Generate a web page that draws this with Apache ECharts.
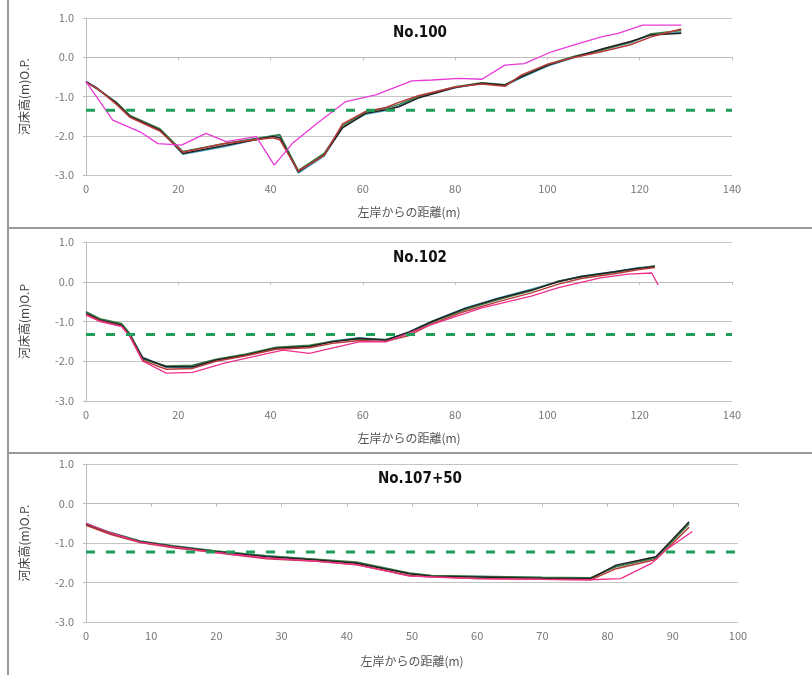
<!DOCTYPE html>
<html>
<head>
<meta charset="utf-8">
<script src="https://cdn.jsdelivr.net/npm/echarts@6/dist/echarts.min.js"></script>
<style>
  html, body { margin: 0; padding: 0; background: #fff; }
  #chart { width: 812px; height: 675px; }
</style>
</head>
<body>
<div id="chart"></div>
<script>
// 断面名
var titles = ['No.100', 'No.102', 'No.107+50'];
var yNames = ['河床高(m)O.P.', '河床高(m)O.P', '河床高(m)O.P.'];
var xName = '左岸からの距離(m)';
var waterLevel = [-1.35, -1.33, -1.23];
var xMax = [140, 140, 100];
var xStep = [20, 20, 10];

// No.100
var p1X = [0, 2.3, 6.6, 9.5, 16, 21, 30, 40.5, 42, 46, 51.6, 55.6, 60.6, 65, 67.8, 72, 80, 85.8, 90.8, 94.4, 100.2, 106, 112.4, 118, 122.5, 129];
var p1Black = [-0.62, -0.79, -1.17, -1.51, -1.85, -2.45, -2.25, -2.02, -2.05, -2.92, -2.49, -1.8, -1.43, -1.34, -1.26, -1.04, -0.77, -0.66, -0.71, -0.5, -0.2, 0.01, 0.23, 0.4, 0.57, 0.61];
var p1Green = [-0.63, -0.8, -1.15, -1.48, -1.82, -2.4, -2.2, -2.0, -1.97, -2.88, -2.45, -1.75, -1.4, -1.3, -1.2, -1.0, -0.75, -0.65, -0.7, -0.48, -0.18, 0.03, 0.2, 0.38, 0.6, 0.68];
var p1Red = [-0.64, -0.78, -1.2, -1.53, -1.88, -2.42, -2.2, -2.05, -2.1, -2.9, -2.5, -1.7, -1.38, -1.28, -1.15, -0.98, -0.76, -0.68, -0.74, -0.45, -0.17, 0.0, 0.16, 0.32, 0.52, 0.72];
var p1Blue = [-0.62, -0.77, -1.16, -1.5, -1.84, -2.47, -2.28, -2.0, -2.0, -2.95, -2.52, -1.78, -1.45, -1.36, -1.24, -1.02, -0.78, -0.66, -0.72, -0.52, -0.22, 0.0, 0.21, 0.37, 0.58, 0.64];
var p1MagX = [0, 5.8, 11.7, 15.6, 20.7, 26, 30.4, 36.9, 40.8, 44.7, 50.1, 56.3, 62.8, 70.6, 75, 80.8, 85.8, 90.8, 95, 100.9, 106.7, 111.7, 115.3, 120.7, 129];
var p1Mag = [-0.62, -1.6, -1.9, -2.2, -2.24, -1.94, -2.15, -2.02, -2.75, -2.2, -1.68, -1.13, -0.96, -0.6, -0.58, -0.54, -0.56, -0.2, -0.16, 0.14, 0.35, 0.52, 0.61, 0.82, 0.82];

// No.102
var p2X = [0, 3, 7.7, 9.5, 12.3, 17.4, 23.1, 28.2, 34.7, 41.2, 48.4, 53.4, 59.2, 65, 70, 75, 82.2, 89.4, 96.5, 102.4, 107.3, 114.6, 119.6, 123.3];
var p2Black = [-0.79, -0.96, -1.09, -1.34, -1.92, -2.14, -2.14, -1.97, -1.84, -1.67, -1.63, -1.51, -1.42, -1.47, -1.26, -1.0, -0.67, -0.42, -0.21, 0.0, 0.13, 0.25, 0.34, 0.38];
var p2Green = [-0.75, -0.93, -1.05, -1.3, -1.95, -2.12, -2.1, -1.95, -1.82, -1.65, -1.6, -1.5, -1.44, -1.45, -1.3, -1.02, -0.7, -0.45, -0.23, 0.02, 0.12, 0.24, 0.33, 0.4];
var p2Red = [-0.82, -0.98, -1.12, -1.36, -1.98, -2.2, -2.18, -2.0, -1.86, -1.7, -1.66, -1.55, -1.48, -1.5, -1.35, -1.06, -0.74, -0.5, -0.28, -0.06, 0.08, 0.2, 0.3, 0.36];
var p2Blue = [-0.77, -0.95, -1.08, -1.32, -1.9, -2.15, -2.16, -1.98, -1.83, -1.66, -1.62, -1.49, -1.41, -1.46, -1.27, -0.99, -0.66, -0.41, -0.19, 0.01, 0.14, 0.26, 0.35, 0.39];
var p2MagX = [0, 3, 7.7, 9.5, 12.3, 17.4, 23.1, 30, 38, 42.7, 48.4, 59.2, 65, 75, 85.8, 96.5, 102.4, 111.5, 117.5, 122.6, 124];
var p2Mag = [-0.84, -1.0, -1.12, -1.38, -2.0, -2.3, -2.28, -2.05, -1.84, -1.72, -1.8, -1.51, -1.51, -1.07, -0.66, -0.36, -0.15, 0.1, 0.19, 0.22, -0.08];

// No.107+50
var p3X = [0, 3.7, 8.3, 13.4, 20, 27.7, 35.3, 41.5, 49.6, 53, 59.8, 70, 77.4, 81.3, 87.4, 89.9, 92.5];
var p3Black = [-0.54, -0.75, -0.97, -1.09, -1.22, -1.35, -1.43, -1.51, -1.78, -1.84, -1.86, -1.89, -1.9, -1.56, -1.35, -0.92, -0.46];
var p3Green = [-0.52, -0.73, -0.95, -1.07, -1.2, -1.32, -1.41, -1.48, -1.76, -1.82, -1.84, -1.87, -1.88, -1.6, -1.38, -0.96, -0.52];
var p3Red = [-0.55, -0.78, -0.99, -1.12, -1.25, -1.4, -1.46, -1.55, -1.82, -1.86, -1.9, -1.92, -1.93, -1.65, -1.42, -1.02, -0.6];
var p3Blue = [-0.5, -0.74, -0.96, -1.08, -1.21, -1.33, -1.42, -1.5, -1.77, -1.83, -1.85, -1.88, -1.89, -1.58, -1.36, -0.94, -0.49];
var p3MagX = [0, 3.7, 8.3, 13.4, 20, 27.7, 35.3, 41.5, 49.6, 53, 59.8, 70, 77.4, 82, 86.8, 88.9, 93];
var p3Mag = [-0.5, -0.74, -0.98, -1.1, -1.24, -1.38, -1.46, -1.55, -1.84, -1.86, -1.9, -1.92, -1.93, -1.9, -1.51, -1.18, -0.71];

var panels = [
    { x: p1X, lines: [p1Blue, p1Green, p1Black, p1Red], magX: p1MagX, mag: p1Mag },
    { x: p2X, lines: [p2Blue, p2Green, p2Black, p2Red], magX: p2MagX, mag: p2Mag },
    { x: p3X, lines: [p3Blue, p3Green, p3Black, p3Red], magX: p3MagX, mag: p3Mag }
];
var lineColors = ['#4aa3c0', '#3a7d44', '#222222', '#b83a3a'];
var magColors = ['#e83ad8', '#f0308c', '#f0308c'];

function pairs(xs, ys) {
    return xs.map(function (v, i) { return [v, ys[i]]; });
}

var gridPos = [
    { left: 86, right: 80, top: 18, height: 157 },
    { left: 86, right: 80, top: 242, height: 159 },
    { left: 86, right: 74, top: 464, height: 158 }
];
var titleTop = [21, 246, 467];
var nameGaps = [31, 31, 33];

var chart = echarts.init(document.getElementById('chart'));
var grid = [], xAxis = [], yAxis = [], series = [], title = [];

gridPos.forEach(function (g, k) {
    grid.push(g);
    title.push({
        text: titles[k],
        left: 415,
        top: titleTop[k],
        textAlign: 'center',
        textStyle: { fontSize: 15, fontWeight: 'bold', color: '#111', fontFamily: 'DejaVu Sans Condensed, sans-serif' }
    });
    xAxis.push({
        type: 'value',
        gridIndex: k,
        min: 0,
        max: xMax[k],
        interval: xStep[k],
        name: xName,
        nameLocation: 'middle',
        nameGap: nameGaps[k],
        nameTextStyle: { fontSize: 12, color: '#555' },
        axisLine: { lineStyle: { color: '#bbbbbb' } },
        axisTick: { lineStyle: { color: '#bbbbbb' }, length: 3 },
        axisLabel: { fontSize: 11, color: '#777', margin: 8 },
        splitLine: { show: false }
    });
    yAxis.push({
        type: 'value',
        gridIndex: k,
        min: -3,
        max: 1,
        interval: 1,
        name: yNames[k],
        nameLocation: 'middle',
        nameGap: 56,
        nameRotate: 90,
        nameTextStyle: { fontSize: 12, color: '#444' },
        axisLine: { show: true, lineStyle: { color: '#bbbbbb' } },
        axisTick: { show: true, length: 3, lineStyle: { color: '#bbbbbb' } },
        axisLabel: { fontSize: 11, color: '#777', margin: 12, formatter: function (v) { return v.toFixed(1); } },
        splitLine: { lineStyle: { color: '#c4c4c4', width: 1.2 } }
    });

    var p = panels[k];
    p.lines.forEach(function (ys, j) {
        series.push({
            type: 'line',
            xAxisIndex: k,
            yAxisIndex: k,
            symbol: 'none',
            data: pairs(p.x, ys),
            lineStyle: { color: lineColors[j], width: 1.5 }
        });
    });
    series.push({
        type: 'line',
        xAxisIndex: k,
        yAxisIndex: k,
        symbol: 'none',
        data: pairs(p.magX, p.mag),
        lineStyle: { color: magColors[k], width: 1.3 }
    });
    series.push({
        type: 'line',
        xAxisIndex: k,
        yAxisIndex: k,
        symbol: 'none',
        data: [[0, waterLevel[k]], [xMax[k], waterLevel[k]]],
        lineStyle: { color: '#1f9e5a', width: 3, type: [9, 11] }
    });
});

var option = {
    animation: false,
    backgroundColor: '#ffffff',
    textStyle: { fontFamily: 'Noto Sans CJK JP, sans-serif' },
    title: title,
    grid: grid,
    xAxis: xAxis,
    yAxis: yAxis,
    series: series,
    graphic: [
        { type: 'rect', shape: { x: 8, y: -2, width: 810, height: 230 }, style: { fill: 'none', stroke: '#9a9a9a', lineWidth: 2 }, silent: true },
        { type: 'rect', shape: { x: 8, y: 228, width: 810, height: 225 }, style: { fill: 'none', stroke: '#9a9a9a', lineWidth: 2 }, silent: true },
        { type: 'rect', shape: { x: 8, y: 453, width: 810, height: 225 }, style: { fill: 'none', stroke: '#9a9a9a', lineWidth: 2 }, silent: true }
    ]
};
chart.setOption(option);
</script>
</body>
</html>
